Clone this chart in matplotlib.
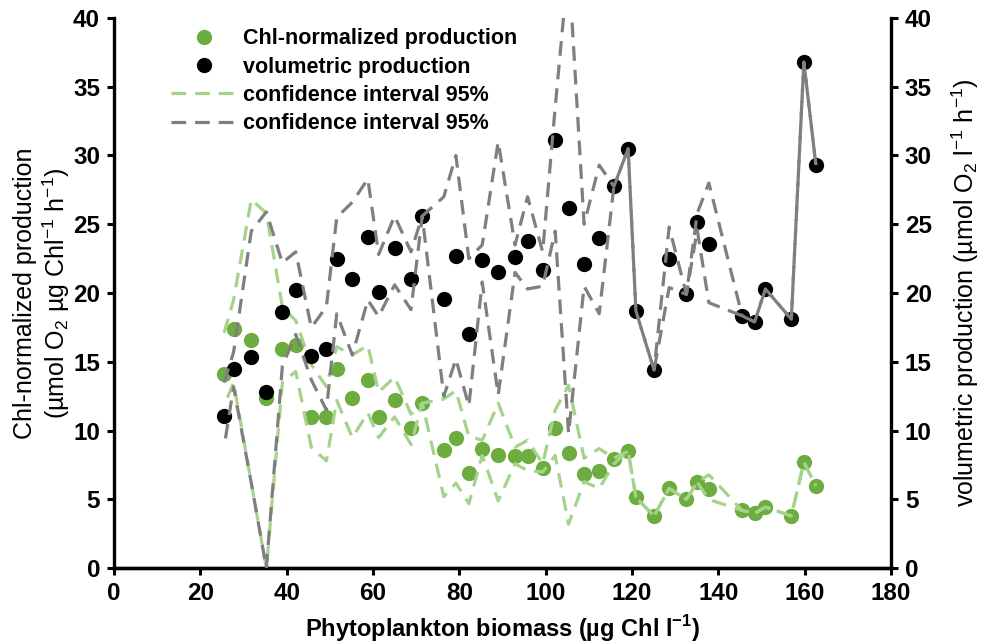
import matplotlib
matplotlib.use("Agg")
import matplotlib.pyplot as plt
from matplotlib.lines import Line2D

# ───────────────────── data ─────────────────────
biomass = [25.5, 27.7, 31.8, 35.3, 39.0, 42.1, 45.7, 49.2, 51.6, 55.2,
           58.8, 61.3, 65.0, 68.8, 71.4, 76.4, 79.2, 82.2, 85.3, 89.0,
           92.9, 95.8, 99.3, 102.2, 105.3, 108.9, 112.4, 115.8, 119.1, 120.9,
           125.1, 128.6, 132.6, 135.1, 137.8, 145.5, 148.4, 150.9, 156.9, 159.8,
           162.6]

chl_prod = [14.1, 17.4, 16.6, 12.4, 15.9, 16.2, 11.0, 11.0, 14.5, 12.4,
            13.7, 11.0, 12.2, 10.2, 12.0, 8.6, 9.5, 6.95, 8.65, 8.25,
            8.15, 8.15, 7.3, 10.2, 8.35, 6.85, 7.1, 7.95, 8.5, 5.15,
            3.8, 5.8, 5.0, 6.25, 5.75, 4.2, 4.0, 4.45, 3.8, 7.7,
            6.0]
chl_upper = [17.1, 19.5, 26.8, 25.8, 19.0, 18.0, 14.8, 13.2, 16.1, 15.5,
             16.2, 12.8, 13.9, 11.2, 12.0, 12.3, 12.9, 9.6, 9.3, 12.0,
             8.8, 9.3, 7.6, 11.5, 13.3, 8.0, 8.7, 8.0, 8.5, 5.15,
             3.8, 5.8, 5.0, 6.25, 6.8, 4.2, 4.0, 4.45, 3.8, 7.7,
             6.0]
chl_lower = [11.8, 13.5, 6.2, 0.0, 13.5, 14.3, 8.8, 7.8, 12.2, 9.5,
             11.3, 9.5, 11.0, 9.0, 12.0, 5.2, 6.2, 4.7, 8.2, 4.9,
             7.6, 7.1, 7.0, 8.2, 3.2, 6.3, 5.8, 7.6, 8.5, 5.15,
             3.8, 5.8, 5.0, 6.25, 5.0, 4.2, 4.0, 4.45, 3.8, 7.7,
             6.0]

vol_prod = [11.1, 14.5, 15.35, 12.8, 18.6, 20.2, 15.4, 15.9, 22.5, 21.0,
            24.1, 20.1, 23.3, 21.0, 25.6, 19.6, 22.7, 17.0, 22.4, 21.5,
            22.6, 23.75, 21.7, 31.1, 26.2, 22.1, 24.0, 27.75, 30.5, 18.7,
            14.4, 22.5, 19.9, 25.2, 23.6, 18.35, 17.9, 20.3, 18.1, 36.8,
            29.3]
vol_upper = [13.5, 15.7, 24.5, 25.9, 22.2, 23.0, 17.5, 19.0, 25.5, 26.6,
             28.3, 22.8, 25.6, 23.0, 25.6, 27.0, 30.0, 22.5, 23.5, 31.0,
             23.5, 27.0, 23.0, 33.5, 44.0, 25.0, 29.3, 27.75, 30.5, 18.7,
             14.4, 24.8, 19.9, 25.8, 28.0, 18.35, 17.9, 20.3, 18.1, 36.8,
             29.3]
vol_lower = [8.8, 13.2, 6.2, 0.0, 14.7, 17.0, 13.7, 11.5, 18.5, 15.5,
             19.5, 18.3, 20.6, 18.8, 25.6, 12.5, 15.2, 11.8, 20.8, 12.6,
             21.5, 20.3, 20.5, 24.5, 9.8, 20.5, 18.5, 27.75, 30.5, 18.7,
             14.4, 20.4, 19.9, 24.6, 19.3, 18.35, 17.9, 20.3, 18.1, 36.8,
             29.3]

GREEN = "#6DAD3F"
LIGHT_GREEN = "#A6D38C"
GREY = "#7F7F7F"

plt.rcParams.update({
    "font.family": ["Liberation Sans", "DejaVu Sans"],
    "mathtext.fontset": "custom",
    "mathtext.rm": "Liberation Sans",
    "mathtext.bf": "Liberation Sans:bold",
    "axes.linewidth": 2.4,
})

fig = plt.figure(figsize=(9.81, 6.43), dpi=100)
ax = fig.add_axes([0.1162, 0.1162, 0.7921, 0.856])
ax2 = ax.twinx()

on, off = 4.6, 2.8
lw = 2.3

# Chl-normalized (left axis)
ax.plot(biomass, chl_prod, "o", color=GREEN, ms=11, mec="none", zorder=2)
ax.plot(biomass, chl_upper, color=LIGHT_GREEN, lw=lw, linestyle=(0, (on, off)), zorder=3)
ax.plot(biomass, chl_lower, color=LIGHT_GREEN, lw=lw, linestyle=(on, (on, off)), zorder=3)

# volumetric (right axis)
ax2.plot(biomass, vol_prod, "o", color="black", ms=11, mec="none", zorder=2)
ax2.plot(biomass, vol_upper, color=GREY, lw=lw, linestyle=(0, (on, off)), zorder=3)
ax2.plot(biomass, vol_lower, color=GREY, lw=lw, linestyle=(on, (on, off)), zorder=3)

for a in (ax, ax2):
    a.set_xlim(0, 180)
    a.set_ylim(0, 40)
    a.set_yticks(range(0, 41, 5))
    a.spines["top"].set_visible(False)
    a.tick_params(direction="out", length=5, width=2.2, labelsize=17.5, pad=5)
    for lab in a.get_yticklabels():
        lab.set_fontweight("bold")
ax.set_xticks(range(0, 181, 20))
for lab in ax.get_xticklabels():
    lab.set_fontweight("bold")
ax2.spines["left"].set_visible(False)
ax.spines["right"].set_visible(False)

ax.set_xlabel(r"Phytoplankton biomass (µg Chl l$^{\mathbf{-1}}$)",
              fontsize=17, fontweight="bold", labelpad=6)
ax.set_ylabel("Chl-normalized production\n"
              r"(µmol O$_2$ µg Chl$^{-1}$ h$^{-1}$)",
              fontsize=18, labelpad=1, linespacing=1.15)
ax2.set_ylabel(r"volumetric production (µmol O$_2$ l$^{-1}$ h$^{-1}$)",
               fontsize=18, labelpad=13)

handles = [
    Line2D([], [], ls="none", marker="o", color=GREEN, ms=11, mec="none"),
    Line2D([], [], ls="none", marker="o", color="black", ms=11, mec="none"),
    Line2D([], [], color=LIGHT_GREEN, lw=lw, linestyle=(0, (on, off))),
    Line2D([], [], color=GREY, lw=lw, linestyle=(0, (on, off))),
]
labels = ["Chl-normalized production", "volumetric production",
          "confidence interval 95%", "confidence interval 95%"]
leg = ax2.legend(handles, labels, loc="upper left", bbox_to_anchor=(0.074, 0.981),
                 frameon=False, borderaxespad=0, borderpad=0,
                 handlelength=3.0, handletextpad=0.3, labelspacing=0.34,
                 prop={"size": 15.5, "weight": "bold"})

fig.savefig("out.png", dpi=100)
